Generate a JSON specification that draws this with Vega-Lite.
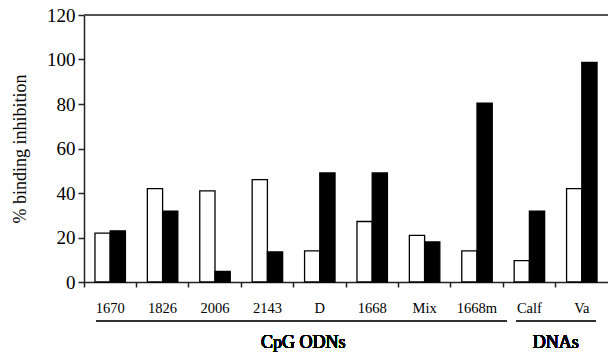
{
  "$schema": "https://vega.github.io/schema/vega-lite/v6.json",
  "width": 524,
  "height": 267,
  "autosize": {"type": "none"},
  "padding": {"left": 84, "top": 15, "right": 0, "bottom": 71},
  "config": {
    "view": {"stroke": null},
    "font": "Liberation Serif",
    "axis": {"labelFont": "Liberation Serif", "titleFont": "Liberation Serif", "domainColor": "#222", "tickColor": "#222", "labelColor": "#000", "titleColor": "#000", "grid": false}
  },
  "data": {
    "values": [
      {"cat": "1670", "series": "white", "value": 22},
      {"cat": "1670", "series": "black", "value": 23},
      {"cat": "1826", "series": "white", "value": 42},
      {"cat": "1826", "series": "black", "value": 31.8},
      {"cat": "2006", "series": "white", "value": 41},
      {"cat": "2006", "series": "black", "value": 4.8},
      {"cat": "2143", "series": "white", "value": 46},
      {"cat": "2143", "series": "black", "value": 13.5},
      {"cat": "D", "series": "white", "value": 14},
      {"cat": "D", "series": "black", "value": 49},
      {"cat": "1668", "series": "white", "value": 27.2},
      {"cat": "1668", "series": "black", "value": 49},
      {"cat": "Mix", "series": "white", "value": 21},
      {"cat": "Mix", "series": "black", "value": 18},
      {"cat": "1668m", "series": "white", "value": 14},
      {"cat": "1668m", "series": "black", "value": 80.4},
      {"cat": "Calf", "series": "white", "value": 9.6},
      {"cat": "Calf", "series": "black", "value": 31.8},
      {"cat": "Va", "series": "white", "value": 42},
      {"cat": "Va", "series": "black", "value": 98.7}
    ]
  },
  "encoding": {
    "x": {
      "field": "cat",
      "type": "nominal",
      "sort": ["1670", "1826", "2006", "2143", "D", "1668", "Mix", "1668m", "Calf", "Va"],
      "scale": {"paddingInner": 0, "paddingOuter": 0},
      "axis": {
        "title": null,
        "bandPosition": 0,
        "labelAngle": 0,
        "labelFontSize": 14.5,
        "labelPadding": 14,
        "tickSize": 5,
        "tickWidth": 1.5,
        "domainWidth": 1.5
      }
    }
  },
  "layer": [
    {
      "mark": {"type": "bar", "stroke": "#000", "strokeWidth": 1.3},
      "encoding": {
        "xOffset": {
          "field": "series",
          "type": "nominal",
          "sort": ["white", "black"],
          "scale": {"paddingInner": 0, "paddingOuter": 0.72}
        },
        "y": {
          "field": "value",
          "type": "quantitative",
          "scale": {"domain": [0, 120]},
          "axis": {
            "title": "% binding inhibition",
            "titleFontSize": 18,
            "titleFontWeight": "normal",
            "titlePadding": 17,
            "values": [0, 20, 40, 60, 80, 100, 120],
            "labelFontSize": 19,
            "labelPadding": 3,
            "tickSize": 6,
            "tickWidth": 1.5,
            "domainWidth": 1.5
          }
        },
        "fill": {
          "field": "series",
          "type": "nominal",
          "scale": {"domain": ["white", "black"], "range": ["#ffffff", "#000000"]},
          "legend": null
        }
      }
    },
    {
      "mark": {"type": "rule", "color": "#555", "strokeWidth": 1.5},
      "encoding": {"x": null, "y": {"datum": 120}}
    },
    {
      "mark": {"type": "rule", "color": "#333", "strokeWidth": 1.5, "yOffset": 39, "xOffset": -14, "x2Offset": 30},
      "encoding": {"x": {"datum": "1670"}, "x2": {"datum": "1668m"}, "y": {"datum": 0}}
    },
    {
      "mark": {"type": "rule", "color": "#333", "strokeWidth": 1.5, "yOffset": 39, "xOffset": -13, "x2Offset": 14},
      "encoding": {"x": {"datum": "Calf"}, "x2": {"datum": "Va"}, "y": {"datum": 0}}
    },
    {
      "mark": {"type": "text", "text": "CpG ODNs", "font": "Liberation Serif", "fontWeight": "normal", "fontSize": 18, "baseline": "middle", "align": "center", "dy": 61, "dx": -16.6},
      "encoding": {"x": {"datum": "D"}, "y": {"datum": 0}}
    },
    {
      "mark": {"type": "text", "text": "DNAs", "font": "Liberation Serif", "fontWeight": "normal", "fontSize": 18, "baseline": "middle", "align": "center", "dy": 61, "dx": -26},
      "encoding": {"x": {"datum": "Va"}, "y": {"datum": 0}}
    }
  ]
}
